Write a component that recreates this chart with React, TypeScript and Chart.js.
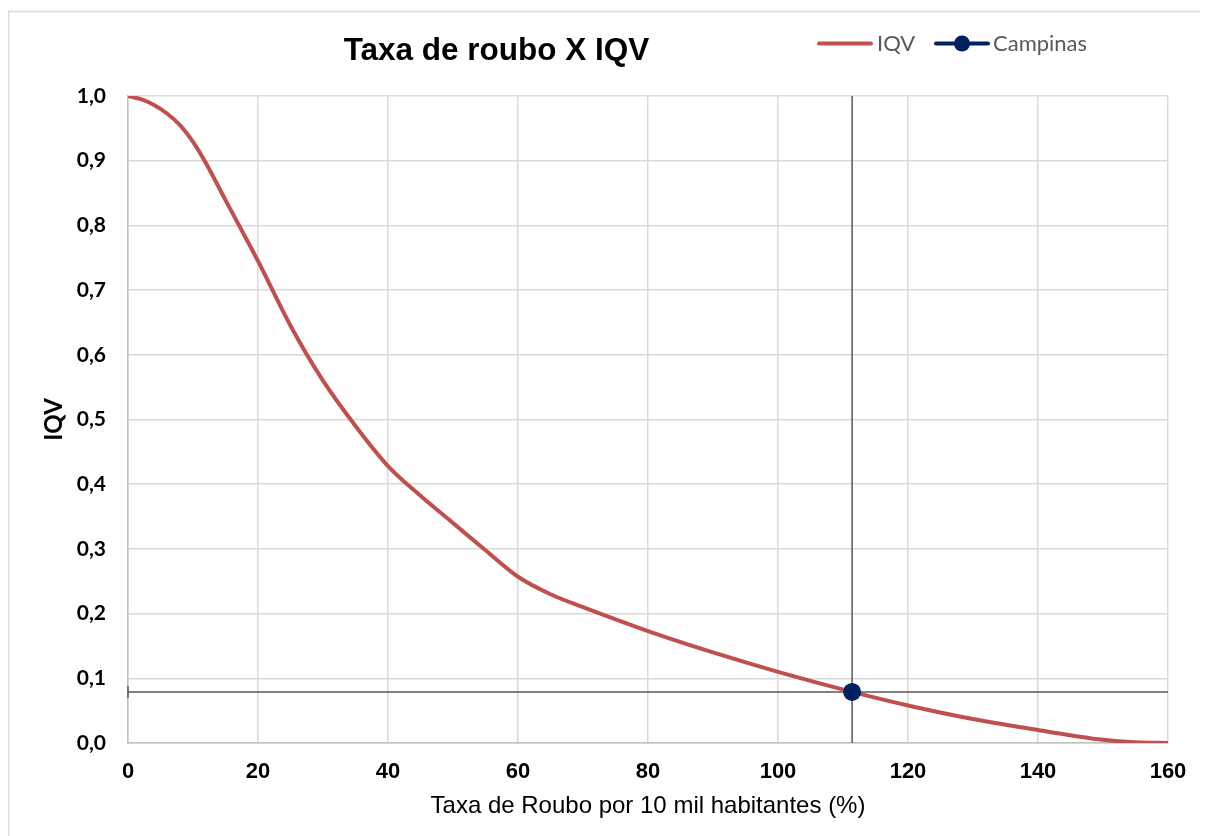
import React, { useEffect, useRef } from "react";
import { Chart, registerables } from "chart.js";

Chart.register(...registerables);

const chartTitle = "Taxa de roubo X IQV";
const xAxisTitle = "Taxa de Roubo por 10 mil habitantes (%)";
const yAxisTitle = "IQV";
const seriesNames = ["IQV", "Campinas"];

const rateValues = [0, 2, 4, 6, 8, 10, 12, 15, 20, 25, 30, 35, 40, 45, 50, 55, 60, 65, 70, 80, 90, 100, 111.4, 120, 130, 140, 150, 155, 160];
const iqvValues = [1.0, 0.995, 0.986, 0.973, 0.955, 0.929, 0.896, 0.839, 0.745, 0.645, 0.56, 0.49, 0.428, 0.382, 0.34, 0.298, 0.257, 0.23, 0.21, 0.173, 0.14, 0.11, 0.079, 0.058, 0.037, 0.02, 0.005, 0.001, 0.0];

const campinasRate = [111.4];
const campinasIqv = [0.079];

const xTicks = [0, 20, 40, 60, 80, 100, 120, 140, 160];
const yTicks = [0, 0.1, 0.2, 0.3, 0.4, 0.5, 0.6, 0.7, 0.8, 0.9, 1.0];

const RED = "#C0504D";
const NAVY = "#002060";
const CROSS = "#595959";
const GRID = "#d9d9d9";
const AXIS = "#bfbfbf";
const LEGEND_TEXT = "#595959";
const ARIAL = '"Liberation Sans", Arial, sans-serif';
const CALIBRI = 'Lato, "Noto Sans", sans-serif';

const framePlugin = {
  id: "frame",
  beforeDraw(chart: any) {
    const { ctx, width, height } = chart;
    ctx.save();
    ctx.fillStyle = "#ffffff";
    ctx.fillRect(0, 0, width, height);
    ctx.strokeStyle = GRID;
    ctx.lineWidth = 1.5;
    ctx.beginPath();
    ctx.moveTo(0.5, height + 5);
    ctx.lineTo(0.5, 3.5);
    ctx.lineTo(width + 5, 3.5);
    ctx.stroke();
    ctx.restore();
  },
};

const capPlugin = {
  id: "errCap",
  afterDatasetsDraw(chart: any) {
    const { ctx, scales } = chart;
    const px = scales.x.getPixelForValue(scales.x.min);
    const py = scales.y.getPixelForValue(campinasIqv[0]);
    ctx.save();
    ctx.strokeStyle = CROSS;
    ctx.lineWidth = 1.5;
    ctx.beginPath();
    ctx.moveTo(px, py - 6);
    ctx.lineTo(px, py + 6);
    ctx.stroke();
    ctx.restore();
  },
};

const headerPlugin = {
  id: "header",
  afterDraw(chart: any) {
    const { ctx } = chart;
    ctx.save();
    // title
    ctx.fillStyle = "#000000";
    ctx.font = `bold 31.5px ${ARIAL}`;
    ctx.textAlign = "center";
    ctx.textBaseline = "alphabetic";
    ctx.fillText(chartTitle, 488.5, 52);

    // legend
    const ly = 35.5;
    ctx.lineCap = "round";
    ctx.lineWidth = 4;
    ctx.strokeStyle = RED;
    ctx.beginPath();
    ctx.moveTo(811, ly);
    ctx.lineTo(863, ly);
    ctx.stroke();

    ctx.font = `22px ${CALIBRI}`;
    ctx.fillStyle = LEGEND_TEXT;
    ctx.textAlign = "left";
    ctx.textBaseline = "middle";
    ctx.fillText(seriesNames[0], 869, ly);

    ctx.strokeStyle = NAVY;
    ctx.beginPath();
    ctx.moveTo(928, ly);
    ctx.lineTo(980, ly);
    ctx.stroke();
    ctx.fillStyle = NAVY;
    ctx.beginPath();
    ctx.arc(954, ly, 8, 0, Math.PI * 2);
    ctx.fill();

    ctx.fillStyle = LEGEND_TEXT;
    ctx.fillText(seriesNames[1], 985, ly);
    ctx.restore();
  },
};

const fmt = (v: number) => v.toFixed(1).replace(".", ",");

export default function App() {
  const ref = useRef<HTMLCanvasElement | null>(null);

  useEffect(() => {
    if (!ref.current) return;
    const chart = new Chart(ref.current, {
      type: "line",
      data: {
        datasets: [
          {
            label: seriesNames[1],
            data: campinasRate.map((x, i) => ({ x, y: campinasIqv[i] })),
            showLine: false,
            pointRadius: 9,
            pointHoverRadius: 9,
            pointBackgroundColor: NAVY,
            pointBorderColor: NAVY,
            pointBorderWidth: 0,
            order: 0,
          },
          {
            label: seriesNames[0],
            data: rateValues.map((x, i) => ({ x, y: iqvValues[i] })),
            borderColor: RED,
            borderWidth: 4,
            pointRadius: 0,
            fill: false,
            cubicInterpolationMode: "monotone",
            order: 1,
          },
          {
            label: "vline",
            data: [
              { x: campinasRate[0], y: yTicks[0] },
              { x: campinasRate[0], y: yTicks[yTicks.length - 1] },
            ],
            borderColor: CROSS,
            borderWidth: 1.5,
            pointRadius: 0,
            fill: false,
            order: 2,
          },
          {
            label: "hline",
            data: [
              { x: xTicks[0], y: campinasIqv[0] },
              { x: xTicks[xTicks.length - 1], y: campinasIqv[0] },
            ],
            borderColor: CROSS,
            borderWidth: 1.5,
            pointRadius: 0,
            fill: false,
            order: 2,
          },
        ],
      },
      options: {
        animation: false,
        responsive: false,
        maintainAspectRatio: false,
        events: [],
        layout: { padding: { left: 0, right: 40, top: 88, bottom: 0 } },
        plugins: {
          legend: { display: false },
          title: { display: false },
          tooltip: { enabled: false },
        },
        scales: {
          x: {
            type: "linear",
            min: xTicks[0],
            max: xTicks[xTicks.length - 1],
            afterBuildTicks: (s: any) => {
              s.ticks = xTicks.map((v) => ({ value: v }));
            },
            afterFit: (s: any) => {
              s.height = 93;
            },
            grid: { color: GRID, lineWidth: 1.5, drawTicks: false },
            border: { color: AXIS, width: 1.5 },
            ticks: {
              padding: 16,
              color: "#000000",
              autoSkip: false,
              maxRotation: 0,
              font: { family: ARIAL, size: 22, weight: "bold" },
              callback: (v: any) => String(v),
            },
            title: {
              display: true,
              text: xAxisTitle,
              color: "#000000",
              font: { family: ARIAL, size: 24 },
              padding: { top: 0, bottom: 15 },
            },
          },
          y: {
            type: "linear",
            min: yTicks[0],
            max: yTicks[yTicks.length - 1],
            afterBuildTicks: (s: any) => {
              s.ticks = yTicks.map((v) => ({ value: v }));
            },
            afterFit: (s: any) => {
              s.width = 120;
            },
            grid: { color: GRID, lineWidth: 1.5, drawTicks: false },
            border: { color: AXIS, width: 1.5 },
            ticks: {
              padding: 22,
              color: "#000000",
              font: { family: CALIBRI, size: 21, weight: "bold" },
              callback: (v: any) => fmt(Number(v)),
            },
            title: {
              display: true,
              text: yAxisTitle,
              color: "#000000",
              font: { family: CALIBRI, size: 24, weight: "bold" },
              padding: { top: 32, bottom: 0 },
            },
          },
        },
      } as any,
      plugins: [framePlugin, capPlugin, headerPlugin],
    });
    return () => chart.destroy();
  }, []);

  return (
    <div style={{ position: "relative", width: 1200, height: 828 }}>
      <canvas ref={ref} width={1200} height={828} />
    </div>
  );
}
